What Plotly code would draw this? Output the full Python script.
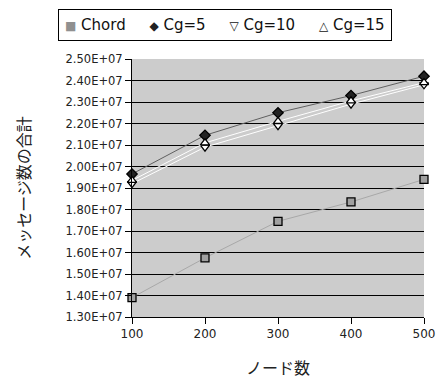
import plotly.graph_objects as go

nodes = [100, 200, 300, 400, 500]
chord = [1.39e7, 1.575e7, 1.745e7, 1.835e7, 1.94e7]
cg5 = [1.965e7, 2.145e7, 2.25e7, 2.33e7, 2.42e7]
cg10 = [1.92e7, 2.09e7, 2.19e7, 2.29e7, 2.38e7]
cg15 = [1.935e7, 2.11e7, 2.21e7, 2.305e7, 2.39e7]
series_names = ["Chord", "Cg=5", "Cg=10", "Cg=15"]
ytick_vals = [1.3e7 + i * 1e6 for i in range(13)]
ytick_text = ["%.2fE+07" % (v / 1e7) for v in ytick_vals]

styles = [
    ("#a8a8a8", "square", "#a0a0a0", '<span style="color:#909090;font-size:12px">■</span>'),
    ("#606060", "diamond", "#222222", '<span style="color:#222222;font-size:12px">◆</span>'),
    ("#ffffff", "triangle-down", "#ffffff", '<span style="font-size:12px">▽</span>'),
    ("#ffffff", "triangle-up", "#ffffff", '<span style="font-size:12px">△</span>'),
]

NB = "\u00a0"
FONT = "DejaVu Sans"
fig = go.Figure()
legend_parts = []
for name, vals, (lc, sym, fc, glyph) in zip(series_names, [chord, cg5, cg10, cg15], styles):
    fig.add_trace(go.Scatter(x=nodes, y=vals, name=name, mode="lines+markers",
                             showlegend=False, cliponaxis=False,
                             line=dict(color=lc, width=1),
                             marker=dict(symbol=sym, size=8, color=fc,
                                         line=dict(color="#000000", width=1.3))))
    legend_parts.append(glyph + NB + name)

fig.add_annotation(
    xref="paper", yref="paper", x=-0.2534, y=1.194, xanchor="left", yanchor="top",
    text=(NB * 5).join(legend_parts), showarrow=False, align="left",
    font=dict(family=FONT, size=15, color="#111111"),
    bordercolor="#000000", borderwidth=1, bgcolor="#ffffff", borderpad=6,
)

fig.update_layout(
    width=438, height=380,
    margin=dict(l=132, r=14, t=59, b=63),
    paper_bgcolor="#ffffff", plot_bgcolor="#cccccc",
    font=dict(family=FONT, color="#222222", size=11),
    showlegend=False,
)
fig.update_xaxes(range=[100, 500], tickvals=nodes, showgrid=False, zeroline=False,
                 showline=True, linecolor="#000000", linewidth=1, automargin=False,
                 ticks="outside", ticklen=6, tickcolor="#000000",
                 tickfont=dict(size=12),
                 title=dict(text="ノード数", font=dict(size=16,
                            family="Noto Sans CJK JP"), standoff=22))
fig.update_yaxes(range=[1.3e7, 2.5e7], tickvals=ytick_vals, ticktext=ytick_text,
                 showgrid=True, gridcolor="#000000", gridwidth=1, zeroline=False,
                 showline=True, linecolor="#000000", linewidth=1, automargin=False,
                 ticks="outside", ticklen=6, tickcolor="#000000",
                 tickfont=dict(size=11.5),
                 title=dict(text="メッセージ数の合計", font=dict(size=16,
                            family="Noto Sans CJK JP"), standoff=30))

fig.write_html("out.html")
